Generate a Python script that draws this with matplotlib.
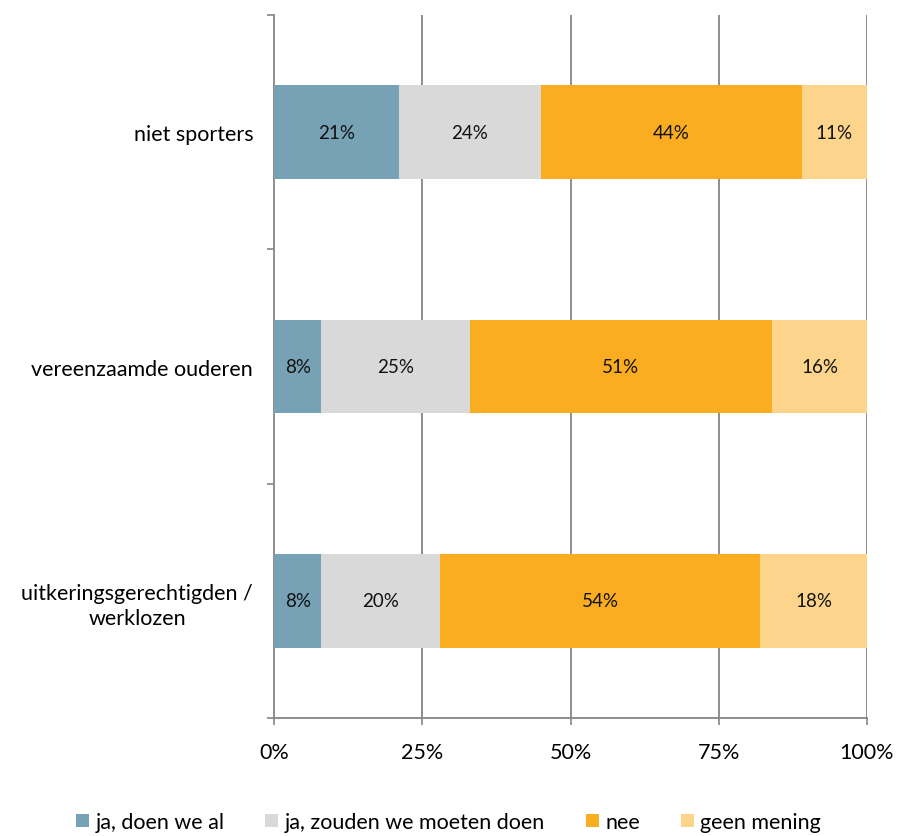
import matplotlib.pyplot as plt
import numpy as np

plt.rcParams['font.family'] = ['Lato', 'DejaVu Sans']

categories = ["niet sporters", "vereenzaamde ouderen", "uitkeringsgerechtigden /\nwerklozen"]
series = ["ja, doen we al", "ja, zouden we moeten doen", "nee", "geen mening"]
values = [
    [21, 24, 44, 11],
    [8, 25, 51, 16],
    [8, 20, 54, 18],
]
colors = ["#77A1B5", "#D9D9D9", "#FBAD22", "#FDD48C"]
xticks = [0, 25, 50, 75, 100]

fig = plt.figure(figsize=(8.97, 8.37), dpi=100)
ax = fig.add_axes([274 / 897, 1 - 719 / 837, (867 - 274) / 897, (719 - 16) / 837])

data = np.array(values, dtype=float)
ypos = np.arange(len(categories))
left = np.zeros(len(categories))
for j, name in enumerate(series):
    ax.barh(ypos, data[:, j], left=left, height=0.4, color=colors[j], label=name, zorder=3)
    for i in range(len(categories)):
        ax.text(left[i] + data[i, j] / 2, ypos[i], f"{values[i][j]}%",
                ha="center", va="center", fontsize=13.5, color="#111111", zorder=4)
    left += data[:, j]

ax.set_ylim(len(categories) - 0.5, -0.5)
ax.set_xlim(0, 100)
ax.set_xticks(xticks)
ax.set_xticklabels([f"{t}%" for t in xticks], fontsize=15.5)
ax.set_yticks([-0.5, 0.5, 1.5, 2.5])
ax.set_yticklabels([])
ax.set_yticks(ypos, minor=True)
ax.set_yticklabels(categories, minor=True, fontsize=15.5, multialignment="center",
                   linespacing=1.35)
ax.tick_params(axis="y", which="minor", length=0, pad=15)
ax.tick_params(axis="y", which="major", length=5, color="#868686", width=1.2)
ax.tick_params(axis="x", length=5, color="#868686", width=1.2, pad=12)

for x in xticks[1:]:
    ax.axvline(x, color="#868686", lw=1.3, zorder=1)

for s in ["top", "right"]:
    ax.spines[s].set_visible(False)
for s in ["left", "bottom"]:
    ax.spines[s].set_color("#868686")
    ax.spines[s].set_linewidth(1.3)

fig.legend(loc="center", bbox_to_anchor=(0.5, 1 - 823 / 837), ncol=4, frameon=False,
           fontsize=15.5, handlelength=0.6, handleheight=0.6, handletextpad=0.3,
           columnspacing=1.9)

fig.savefig("out.png", dpi=100)
